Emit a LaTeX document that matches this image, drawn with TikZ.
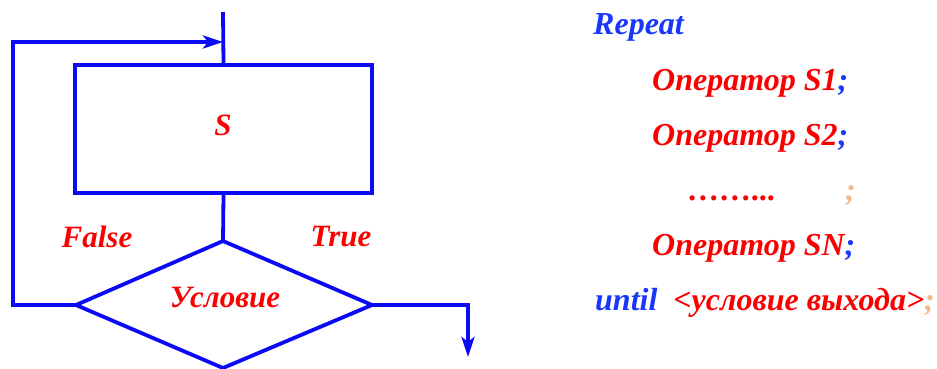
\documentclass[tikz,border=0pt]{standalone}
\usepackage{fontspec}
\setmainfont{Liberation Serif}
\usetikzlibrary{arrows.meta}
\definecolor{lineblue}{RGB}{10,10,245}
\definecolor{kwblue}{RGB}{25,55,250}
\definecolor{txtred}{RGB}{250,0,0}
\definecolor{peach}{RGB}{245,185,135}
\begin{document}
\begin{tikzpicture}[x=1pt,y=-1pt,
  flow/.style={draw=lineblue,line width=3.8pt},
  conn/.style={lineblue,line width=3.8pt},
  tip/.style={-{Stealth[length=20pt,width=13pt,inset=5pt]}},
  lbl/.style={font=\fontsize{31}{34}\selectfont\bfseries\itshape,text=txtred,inner sep=0pt},
  code/.style={font=\fontsize{32}{36}\selectfont\bfseries\itshape,inner sep=0pt,anchor=base west}]
\useasboundingbox (0,0) rectangle (937,369);

% body of the loop
\node[flow,minimum width=297pt,minimum height=128pt,inner sep=0pt] (body) at (223.5,129) {};
\node[lbl] (s) at (223,125) {S};

% exit condition
\coordinate (dtop) at (223,241);
\coordinate (dleft) at (76,305);
\coordinate (dright) at (372,305);
\coordinate (dbot) at (223,368);
\draw[flow,line join=miter] (dtop) -- (dright) -- (dbot) -- (dleft) -- cycle;
\node[lbl] (cond) at (225,298) {Условие};
\node[lbl] (f) at (97,237) {False};
\node[lbl] (t) at (341,237) {True};

% entry and joints
\coordinate (in) at (223,12);
\coordinate (join) at (223,42);
\coordinate (lc) at (13,305);
\coordinate (tc) at (13,42);
\coordinate (rc) at (468,305);
\coordinate (out) at (468,357);

\draw[conn] (in) -- (body.north);
\draw[conn] (body.south) -- (dtop);
\draw[conn,tip,line join=miter] (dleft) -- (lc) -- (tc) -- (join);
\draw[conn,tip,line join=miter] (dright) -- (rc) -- (out);

% Pascal listing
\node[code,text=kwblue] (rep) at (593,35) {Repeat};
\node[code,text=txtred] (s1) at (652,90) {Оператор S1\textcolor{kwblue}{;}};
\node[code,text=txtred] (s2) at (652,145) {Оператор S2\textcolor{kwblue}{;}};
\node[code,text=txtred] (dots) at (688,200) {……...};
\node[code,text=peach] (dsc) at (845,200) {;};
\node[code,text=txtred] (sn) at (652,255) {Оператор SN\textcolor{kwblue}{;}};
\node[code,text=kwblue] (until) at (595,310) {until\ \ \textcolor{txtred}{<условие выхода>}\textcolor{peach}{;}};
\end{tikzpicture}
\end{document}
